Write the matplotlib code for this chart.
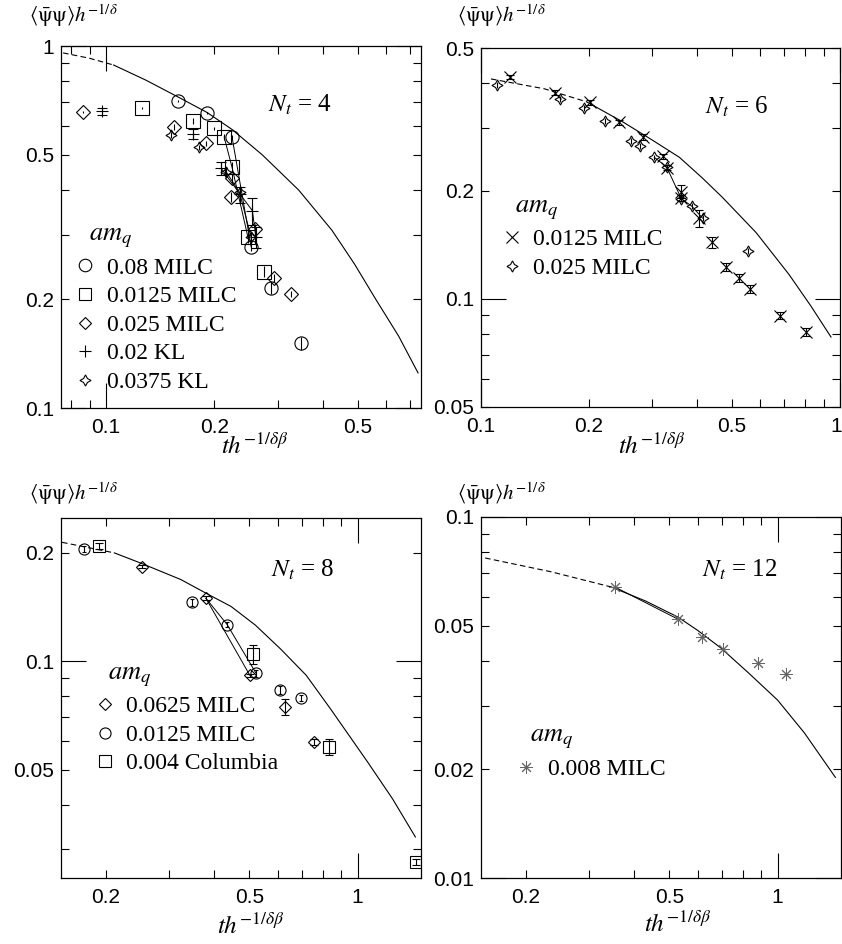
import matplotlib
matplotlib.use('Agg')
import matplotlib.pyplot as plt
from matplotlib.lines import Line2D
from matplotlib.ticker import LogLocator, FuncFormatter

plt.rcParams['mathtext.fontset'] = 'stix'
plt.rcParams['font.family'] = ['Liberation Serif', 'DejaVu Serif']

# ---------------- N_t = 4 ----------------
nt4_dash_x = [0.076, 0.090, 0.105]
nt4_dash_y = [0.957, 0.925, 0.886]
nt4_curve_x = [0.105, 0.129, 0.159, 0.191, 0.224, 0.272, 0.343, 0.424, 0.490, 0.561, 0.650, 0.736]
nt4_curve_y = [0.886, 0.805, 0.722, 0.655, 0.588, 0.500, 0.400, 0.310, 0.250, 0.200, 0.158, 0.125]

nt4_c_x = [0.159, 0.191, 0.224, 0.253, 0.288, 0.348]          # 0.08 MILC
nt4_c_y = [0.704, 0.652, 0.560, 0.279, 0.215, 0.151]
nt4_c_e = [0.004, 0.004, 0.008, 0.008, 0.008, 0.006]
nt4_s_x = [0.1257, 0.175, 0.200, 0.213, 0.224, 0.248, 0.275]  # 0.0125 MILC
nt4_s_y = [0.673, 0.620, 0.593, 0.560, 0.462, 0.296, 0.238]
nt4_s_e = [0.004, 0.012, 0.006, 0.01, 0.015, 0.01, 0.008]
nt4_d_x = [0.0864, 0.155, 0.190, 0.224, 0.2225, 0.259, 0.293, 0.327]  # 0.025 MILC
nt4_d_y = [0.656, 0.597, 0.539, 0.431, 0.382, 0.313, 0.229, 0.206]
nt4_d_e = [0.004, 0.012, 0.008, 0.012, 0.012, 0.01, 0.006, 0.004]
nt4_k_x = [0.0975, 0.175, 0.209, 0.236, 0.255, 0.261]         # 0.02 KL
nt4_k_y = [0.660, 0.571, 0.459, 0.389, 0.351, 0.296]
nt4_k_e = [0.015, 0.018, 0.02, 0.02, 0.03, 0.02]
nt4_l_x = [0.152, 0.181, 0.216, 0.235, 0.253]                 # 0.0375 KL
nt4_l_y = [0.567, 0.525, 0.448, 0.394, 0.296]
nt4_l_e = [0.01, 0.008, 0.012, 0.01, 0.01]

# ---------------- N_t = 6 ----------------
nt6_dash_x = [0.1066, 0.15, 0.197]
nt6_dash_y = [0.410, 0.385, 0.354]
nt6_curve_x = [0.197, 0.25, 0.30, 0.357, 0.414, 0.470, 0.584, 0.721, 0.83, 0.944]
nt6_curve_y = [0.354, 0.310, 0.277, 0.248, 0.217, 0.192, 0.153, 0.117, 0.0955, 0.0783]

nt6_x_x = [0.1204, 0.1606, 0.201, 0.2416, 0.282, 0.3207, 0.330, 0.3616, 0.3616,
           0.406, 0.441, 0.482, 0.524, 0.562, 0.681, 0.805]     # 0.0125 MILC
nt6_x_y = [0.415, 0.375, 0.353, 0.311, 0.2826, 0.250, 0.232, 0.199, 0.191,
           0.168, 0.144, 0.1228, 0.1143, 0.1066, 0.0897, 0.0809]
nt6_x_e = [0.006, 0.006, 0.006, 0.005, 0.005, 0.004, 0.004, 0.008, 0.004,
           0.009, 0.005, 0.003, 0.003, 0.003, 0.002, 0.002]
nt6_s_x = [0.1108, 0.1656, 0.193, 0.222, 0.262, 0.277, 0.304, 0.329, 0.3616,
           0.386, 0.414, 0.555]                                 # 0.025 MILC
nt6_s_y = [0.395, 0.360, 0.340, 0.313, 0.275, 0.267, 0.248, 0.233, 0.190,
           0.1815, 0.168, 0.136]
nt6_s_e = [0.008, 0.007, 0.006, 0.006, 0.005, 0.005, 0.004, 0.004, 0.004,
           0.003, 0.003, 0.003]

# ---------------- N_t = 8 ----------------
nt8_dash_x = [0.151, 0.211]
nt8_dash_y = [0.214, 0.200]
nt8_curve_x = [0.211, 0.251, 0.323, 0.384, 0.445, 0.520, 0.612, 0.720, 0.842, 1.066, 1.25, 1.447]
nt8_curve_y = [0.200, 0.187, 0.1686, 0.1535, 0.142, 0.126, 0.108, 0.0914, 0.0736, 0.0525, 0.0415, 0.0325]

nt8_d_x = [0.252, 0.379, 0.502, 0.628, 0.755]                 # 0.0625 MILC
nt8_d_y = [0.183, 0.1496, 0.0914, 0.0746, 0.0597]
nt8_d_e = [0.002, 0.002, 0.001, 0.0038, 0.001]
nt8_c_x = [0.174, 0.347, 0.434, 0.522, 0.608, 0.695]          # 0.0125 MILC
nt8_c_y = [0.2056, 0.1457, 0.1265, 0.0927, 0.0832, 0.079]
nt8_c_e = [0.004, 0.003, 0.002, 0.002, 0.002, 0.0015]
nt8_s_x = [0.1917, 0.512, 0.831, 1.457]                       # 0.004 Columbia
nt8_s_y = [0.2085, 0.1046, 0.0578, 0.0277]
nt8_s_e = [0.004, 0.0065, 0.0029, 0.0006]

# ---------------- N_t = 12 ----------------
nt12_dash_x = [0.154, 0.235, 0.345]
nt12_dash_y = [0.077, 0.0705, 0.064]
nt12_curve_x = [0.345, 0.43, 0.529, 0.60, 0.695, 0.83, 1.0, 1.188, 1.447]
nt12_curve_y = [0.064, 0.0585, 0.0528, 0.0485, 0.0434, 0.037, 0.0311, 0.0252, 0.0190]

nt12_x = [0.353, 0.529, 0.616, 0.704, 0.880, 1.052]           # 0.008 MILC
nt12_y = [0.064, 0.0521, 0.0466, 0.0431, 0.0394, 0.0367]

STAR4 = (4, 1, 0)
AST = (8, 2, 0)
GREY = '#666666'


def setup(ax, xlim, ylim, xlabels, ylabels):
    ax.set_xscale('log')
    ax.set_yscale('log')
    ax.set_xlim(xlim)
    ax.set_ylim(ylim)
    for axis, labels in ((ax.xaxis, xlabels), (ax.yaxis, ylabels)):
        axis.set_major_locator(LogLocator(base=10, numticks=10))
        axis.set_minor_locator(LogLocator(base=10, subs=range(2, 10), numticks=20))
        fmt = FuncFormatter(lambda v, p, labs=labels:
                            ('%g' % v) if any(abs(v - l) / l < 1e-6 for l in labs) else '')
        axis.set_major_formatter(fmt)
        axis.set_minor_formatter(fmt)
    ax.tick_params(which='both', direction='in', top=True, right=True,
                   labelsize=15, width=0.8, labelfontfamily='Liberation Sans')
    ax.tick_params(which='major', length=18)
    ax.tick_params(which='minor', length=6)
    ax.tick_params(axis='x', which='both', pad=7)
    ax.tick_params(axis='y', which='both', pad=5)
    for s in ax.spines.values():
        s.set_linewidth(0.9)


def curve(ax, dx, dy, cx, cy):
    ax.plot(dx, dy, color='k', lw=0.8, ls=(0, (5, 3)))
    ax.plot(cx, cy, color='k', lw=0.8)


def pts(ax, x, y, e, marker, ms, cap=0, color='k'):
    ax.errorbar(x, y, yerr=e, fmt='none', ecolor=color, elinewidth=0.8,
                capsize=cap, capthick=0.8)
    ax.plot(x, y, ls='none', marker=marker, ms=ms, mfc='none', mec=color, mew=0.8)


def handle(marker, ms, color='k'):
    return Line2D([], [], marker=marker, ms=ms, mfc='none', mec=color, mew=0.8, ls='none')


def legend(ax, handles, labels, anchor):
    lg = ax.legend(handles, labels, title=r'$am_q$', loc='upper left', bbox_to_anchor=anchor,
                   frameon=False, fontsize=17, title_fontsize=19, handlelength=0.7,
                   handletextpad=0.55, labelspacing=0.3, borderpad=0, borderaxespad=0,
                   alignment='left')
    lg.get_title().set_position((12, 0))


fig = plt.figure(figsize=(8.42, 9.44), dpi=100)
ax1 = fig.add_axes([61 / 842, 536 / 944, 360 / 842, 362 / 944])
ax2 = fig.add_axes([481 / 842, 537 / 944, 359 / 842, 359 / 944])
ax3 = fig.add_axes([61 / 842, 66 / 944, 360 / 842, 360 / 944])
ax4 = fig.add_axes([481 / 842, 66 / 944, 360 / 842, 361 / 944])

# N_t = 4
setup(ax1, (0.075, 0.75), (0.1, 1.0), [0.1, 0.2, 0.5], [0.1, 0.2, 0.5, 1])
curve(ax1, nt4_dash_x, nt4_dash_y, nt4_curve_x, nt4_curve_y)
ax1.plot(nt4_c_x[2:4], nt4_c_y[2:4], 'k-', lw=0.7)
ax1.plot(nt4_s_x[3:6], nt4_s_y[3:6], 'k-', lw=0.7)
ax1.plot(nt4_k_x[2:], nt4_k_y[2:], 'k-', lw=0.7)
ax1.plot(nt4_l_x[2:], nt4_l_y[2:], 'k-', lw=0.7)
pts(ax1, nt4_c_x, nt4_c_y, nt4_c_e, 'o', 9.5)
pts(ax1, nt4_s_x, nt4_s_y, nt4_s_e, 's', 9.5)
pts(ax1, nt4_d_x, nt4_d_y, nt4_d_e, 'D', 7)
pts(ax1, nt4_k_x, nt4_k_y, nt4_k_e, '+', 9, cap=3.5)
pts(ax1, nt4_l_x, nt4_l_y, nt4_l_e, STAR4, 8)
ax1.text(0.664, 0.837, r'$N_t$ = 4', transform=ax1.transAxes, ha='center', va='center', fontsize=18)
legend(ax1, [handle('o', 9), handle('s', 9), handle('D', 6.5), handle('+', 9), handle(STAR4, 8)],
       ['0.08 MILC', '0.0125 MILC', '0.025 MILC', '0.02 KL', '0.0375 KL'], (0.045, 0.51))

# N_t = 6
setup(ax2, (0.1, 1.0), (0.05, 0.5), [0.1, 0.2, 0.5], [0.05, 0.1, 0.2, 0.5])
curve(ax2, nt6_dash_x, nt6_dash_y, nt6_curve_x, nt6_curve_y)
ax2.plot(nt6_s_x[6:11], nt6_s_y[6:11], 'k-', lw=0.7)
pts(ax2, nt6_x_x, nt6_x_y, nt6_x_e, 'x', 8, cap=3)
pts(ax2, nt6_s_x, nt6_s_y, nt6_s_e, STAR4, 8)
ax2.annotate('1', xy=(1.0, 0), xycoords=('data', 'axes fraction'), xytext=(1.5, -7),
             textcoords='offset points', ha='right', va='top', fontsize=15,
             family='Liberation Sans')
ax2.text(0.711, 0.836, r'$N_t$ = 6', transform=ax2.transAxes, ha='center', va='center', fontsize=18)
legend(ax2, [handle('x', 8), handle(STAR4, 8)], ['0.0125 MILC', '0.025 MILC'], (0.062, 0.59))

# N_t = 8
setup(ax3, (0.15, 1.5), (0.025, 0.25), [0.2, 0.5, 1], [0.05, 0.1, 0.2])
curve(ax3, nt8_dash_x, nt8_dash_y, nt8_curve_x, nt8_curve_y)
ax3.plot(nt8_d_x[1:3], nt8_d_y[1:3], 'k-', lw=0.7)
ax3.plot([nt8_d_x[1]] + nt8_c_x[2:4], [nt8_d_y[1]] + nt8_c_y[2:4], 'k-', lw=0.7)
pts(ax3, nt8_d_x, nt8_d_y, nt8_d_e, 'D', 6.5, cap=3)
pts(ax3, nt8_c_x, nt8_c_y, nt8_c_e, 'o', 8, cap=1.5)
pts(ax3, nt8_s_x, nt8_s_y, nt8_s_e, 's', 8, cap=3)
ax3.text(0.672, 0.856, r'$N_t$ = 8', transform=ax3.transAxes, ha='center', va='center', fontsize=18)
legend(ax3, [handle('D', 6.5), handle('o', 8), handle('s', 8)],
       ['0.0625 MILC', '0.0125 MILC', '0.004 Columbia'], (0.098, 0.60))

# N_t = 12
setup(ax4, (0.15, 1.5), (0.01, 0.1), [0.2, 0.5, 1], [0.01, 0.02, 0.05, 0.1])
curve(ax4, nt12_dash_x, nt12_dash_y, nt12_curve_x, nt12_curve_y)
ax4.plot(nt12_x[:2], nt12_y[:2], 'k-', lw=0.7)
ax4.plot(nt12_x, nt12_y, ls='none', marker=AST, ms=9, mec=GREY, mew=0.7)
ax4.text(0.719, 0.853, r'$N_t$ = 12', transform=ax4.transAxes, ha='center', va='center', fontsize=18)
legend(ax4, [Line2D([], [], marker=AST, ms=9, mec=GREY, mew=0.7, ls='none')],
       ['0.008 MILC'], (0.103, 0.425))

ylab = r'$\langle\bar{\mathrm{\psi}}\mathrm{\psi}\rangle h^{-1/\delta}$'
xlab = r'$th^{-1/\delta\beta}$'
for (lx, ly) in [(29, 16), (457, 16), (29, 494), (457, 494)]:
    fig.text(lx / 842, 1 - ly / 944, ylab, ha='left', va='center', fontsize=15)
for (lx, ly) in [(255, 446), (652, 446), (251, 926), (678, 924)]:
    fig.text(lx / 842, 1 - ly / 944, xlab, ha='center', va='center', fontsize=18)

fig.savefig('out.png', dpi=100)
